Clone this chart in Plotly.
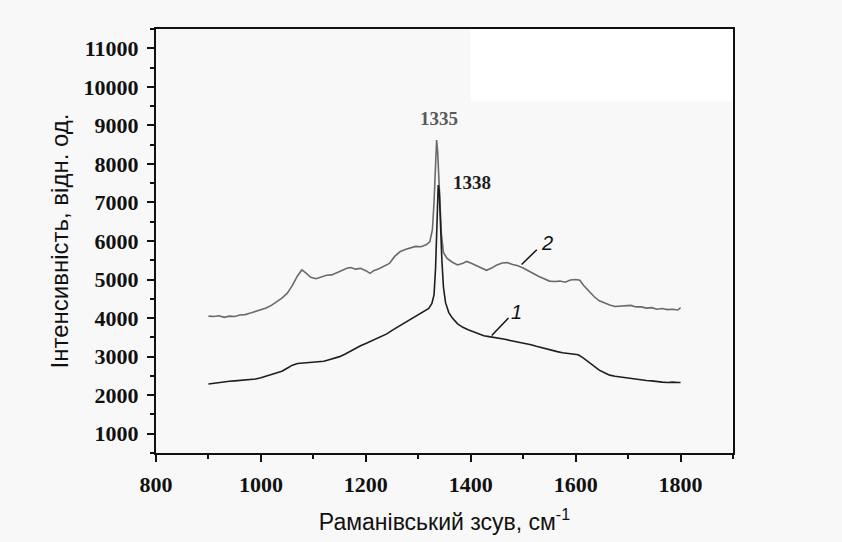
import plotly.graph_objects as go

# Curve 2 (grey)
x2 = [900, 910, 920, 930, 940, 950, 960, 970, 980, 990, 1000, 1010, 1020, 1030, 1040, 1050, 1060, 1070, 1078, 1085,
      1095, 1105, 1115, 1125, 1135, 1145, 1155, 1165, 1172, 1180, 1190, 1200, 1208, 1215, 1225, 1235, 1245, 1255, 1265, 1275,
      1285, 1295, 1305, 1315, 1322, 1327, 1330, 1333, 1335, 1337, 1340, 1344, 1348, 1355, 1365, 1375, 1385, 1392, 1400, 1410,
      1420, 1430, 1440, 1450, 1460, 1470, 1480, 1490, 1500, 1510, 1520, 1530, 1540, 1550, 1560, 1570, 1580, 1590, 1600, 1608,
      1615, 1625, 1635, 1645, 1655, 1665, 1675, 1685, 1695, 1705, 1715, 1725, 1735, 1745, 1755, 1765, 1775, 1785, 1795, 1800]
y2 = [4050, 4040, 4060, 4020, 4050, 4040, 4080, 4090, 4130, 4170, 4210, 4260, 4330, 4420, 4520, 4640, 4850, 5100, 5250, 5180,
      5060, 5020, 5060, 5110, 5120, 5180, 5220, 5300, 5310, 5270, 5290, 5230, 5160, 5230, 5280, 5340, 5420, 5600, 5720, 5780,
      5820, 5860, 5850, 5900, 5980, 6300, 7000, 8200, 8620, 8300, 7200, 6200, 5700, 5550, 5450, 5380, 5420, 5470, 5430, 5360,
      5300, 5240, 5300, 5380, 5430, 5440, 5390, 5360, 5300, 5220, 5150, 5080, 5020, 4960, 4950, 4960, 4930, 4990, 5000, 4980,
      4850, 4700, 4560, 4450, 4390, 4340, 4300, 4310, 4330, 4330, 4290, 4290, 4260, 4270, 4230, 4250, 4220, 4230, 4210, 4270]

# Curve 1 (dark)
x1 = [900, 910, 920, 930, 940, 950, 960, 970, 980, 990, 1000, 1010, 1020, 1030, 1040, 1050, 1060, 1070, 1080, 1090,
      1100, 1110, 1120, 1130, 1140, 1150, 1160, 1170, 1180, 1190, 1200, 1210, 1220, 1230, 1240, 1250, 1260, 1270, 1280, 1290,
      1300, 1310, 1320, 1326, 1330, 1333, 1336, 1338, 1340, 1342, 1345, 1348, 1352, 1358, 1365, 1375, 1385, 1395, 1405, 1415,
      1425, 1435, 1445, 1455, 1465, 1475, 1485, 1495, 1505, 1515, 1525, 1535, 1545, 1555, 1565, 1575, 1585, 1595, 1605, 1615,
      1625, 1635, 1645, 1655, 1665, 1675, 1685, 1695, 1705, 1715, 1725, 1735, 1745, 1755, 1765, 1775, 1785, 1795, 1800]
y1 = [2290, 2310, 2330, 2350, 2360, 2370, 2380, 2390, 2410, 2420, 2450, 2490, 2530, 2580, 2620, 2700, 2780, 2820, 2830, 2840,
      2850, 2860, 2880, 2920, 2950, 3000, 3060, 3140, 3200, 3280, 3340, 3400, 3470, 3520, 3590, 3680, 3760, 3840, 3920, 4000,
      4080, 4160, 4250, 4380, 4600, 5300, 6600, 7450, 7300, 6400, 5500, 4800, 4400, 4150, 4000, 3850, 3760, 3700, 3640, 3580,
      3540, 3520, 3500, 3480, 3450, 3420, 3390, 3380, 3350, 3310, 3270, 3230, 3190, 3170, 3130, 3100, 3080, 3070, 3050, 2960,
      2860, 2750, 2650, 2580, 2520, 2490, 2470, 2450, 2440, 2420, 2390, 2380, 2370, 2350, 2340, 2330, 2340, 2330, 2330, 2450]

x_ticks = [800, 1000, 1200, 1400, 1600, 1800]
x_tick_text = ["800", "1000", "1200", "1400", "1600", "1800"]
y_ticks = [1000, 2000, 3000, 4000, 5000, 6000, 7000, 8000, 9000, 10000, 11000]
y_tick_text = ["1000", "2000", "3000", "4000", "5000", "6000", "7000", "8000", "9000", "10000", "11000"]

peak_labels = [("1335", 1340, 9180, "#5a5a5a"), ("1338", 1402, 7510, "#1e1e1e")]
curve_labels = [("2", 1545, 5960, 1497, 5390, 1526, 5775), ("1", 1488, 4150, 1440, 3547, 1472, 4005)]

fig = go.Figure()
fig.add_trace(go.Scatter(x=x2, y=y2, mode="lines", line=dict(color="#6a6a6a", width=1.6), showlegend=False))
fig.add_trace(go.Scatter(x=x1, y=y1, mode="lines", line=dict(color="#1e1e1e", width=1.6), showlegend=False))

tickfont = dict(family="Liberation Serif", size=22, color="#111", weight="bold")
fig.update_xaxes(range=[800, 1900], tickvals=x_ticks, ticktext=x_tick_text, ticks="outside", ticklen=7, tickwidth=2, tickcolor="#111",
                 minor=dict(dtick=100, tick0=800, ticks="outside", ticklen=4, tickwidth=1.5, tickcolor="#111"),
                 showline=True, linewidth=2, linecolor="#111", mirror=True, showgrid=False, zeroline=False,
                 tickfont=tickfont, ticklabelstandoff=4,
                 title=dict(text="Раманівський зсув, см<sup>-1</sup>", font=dict(family="Liberation Sans", size=23, color="#111"), standoff=17))
fig.update_yaxes(range=[500, 11500], tickvals=y_ticks, ticktext=y_tick_text, ticks="outside", ticklen=7, tickwidth=2, tickcolor="#111",
                 minor=dict(dtick=500, tick0=500, ticks="outside", ticklen=4, tickwidth=1.5, tickcolor="#111"),
                 showline=True, linewidth=2, linecolor="#111", mirror=True, showgrid=False, zeroline=False,
                 tickfont=tickfont, ticklabelstandoff=4,
                 title=dict(text="Інтенсивність, відн. од.", font=dict(family="Liberation Sans", size=24, color="#111"), standoff=8))

fig.add_shape(type="rect", x0=1400, x1=1900, y0=9620, y1=11500, fillcolor="white", line=dict(width=0), layer="below")

for txt, x, y, col in peak_labels:
    fig.add_annotation(x=x, y=y, text=txt, showarrow=False,
                       font=dict(family="Liberation Serif", size=19, color=col, weight="bold"))
for txt, tx, ty, ax0, ay0, ax1, ay1 in curve_labels:
    fig.add_shape(type="line", x0=ax0, y0=ay0, x1=ax1, y1=ay1, line=dict(color="#111", width=1.5))
    fig.add_annotation(x=tx, y=ty, text="<i>" + txt + "</i>", showarrow=False,
                       font=dict(family="Liberation Sans", size=20, color="#111"))

fig.update_layout(width=842, height=542, margin=dict(l=156, r=109, t=29, b=89),
                  paper_bgcolor="#f8f8f8", plot_bgcolor="#f8f8f8")
fig.write_html("out.html")
